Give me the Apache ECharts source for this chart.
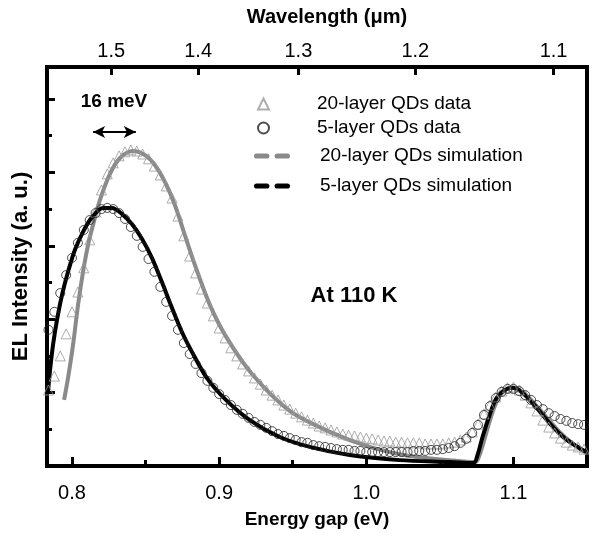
<!DOCTYPE html>
<html><head><meta charset="utf-8">
<script src="https://cdn.jsdelivr.net/npm/echarts@6/dist/echarts.min.js"></script>
<style>html,body{margin:0;padding:0;background:#fff}#c{width:592px;height:533px}</style>
</head><body><div id="c"></div>
<script>
// ---- data ----
const dataEnergy = [0.784,0.788,0.792,0.796,0.800,0.804,0.808,0.812,0.816,0.820,0.824,0.828,0.832,0.836,0.840,0.844,0.848,0.852,0.856,0.860,0.864,0.868,0.872,0.876,0.880,0.884,0.888,0.892,0.896,0.900,0.904,0.908,0.912,0.916,0.920,0.924,0.928,0.932,0.936,0.940,0.944,0.948,0.952,0.956,0.960,0.964,0.968,0.972,0.976,0.980,0.984,0.988,0.992,0.996,1.000,1.004,1.008,1.012,1.016,1.020,1.024,1.028,1.032,1.036,1.040,1.044,1.048,1.052,1.056,1.060,1.064,1.068,1.072,1.076,1.080,1.084,1.088,1.092,1.096,1.100,1.104,1.108,1.112,1.116,1.120,1.124,1.128,1.132,1.136,1.140,1.144,1.148];
const data20Layer = [2.07,2.45,3.00,3.60,4.20,4.74,5.40,6.16,6.92,7.52,
 7.96,8.26,8.45,8.56,8.61,8.58,8.50,8.37,8.17,7.93,
 7.63,7.30,6.81,6.27,5.72,5.26,4.82,4.44,4.09,3.76,
 3.49,3.22,3.00,2.78,2.59,2.40,2.23,2.07,1.93,1.80,
 1.66,1.55,1.44,1.34,1.25,1.17,1.09,1.04,0.98,0.93,
 0.87,0.84,0.82,0.79,0.76,0.74,0.71,0.68,0.68,0.65,
 0.65,0.63,0.63,0.63,0.60,0.60,0.60,0.60,0.63,0.65,
 0.71,0.79,0.93,1.14,1.42,1.66,1.88,2.04,2.13,2.15,
 2.07,1.93,1.72,1.50,1.25,1.06,0.90,0.76,0.65,0.57,
 0.52,0.46];
const data5Layer = [3.71,4.20,4.71,5.20,5.67,6.08,6.43,6.70,6.89,7.00,
 7.03,7.00,6.89,6.73,6.51,6.27,5.97,5.64,5.29,4.88,
 4.47,4.09,3.71,3.35,3.05,2.78,2.53,2.32,2.13,1.96,
 1.80,1.66,1.53,1.42,1.31,1.20,1.12,1.04,0.95,0.87,
 0.82,0.76,0.71,0.65,0.63,0.57,0.54,0.52,0.49,0.46,
 0.44,0.44,0.41,0.41,0.38,0.38,0.38,0.38,0.38,0.38,
 0.38,0.38,0.41,0.41,0.41,0.44,0.44,0.46,0.49,0.54,
 0.63,0.74,0.90,1.12,1.39,1.63,1.85,2.02,2.10,2.10,
 2.04,1.93,1.80,1.66,1.55,1.44,1.36,1.28,1.23,1.17,
 1.14,1.12];
const sim20Energy = [0.7946,0.7973,0.8007,0.8041,0.8075,0.8109,0.8143,0.8190,0.8258,0.8326,0.8414,0.8496,0.8563,0.8631,0.8699,0.8767,0.8835,0.8937,0.9052,0.9229,0.9480,0.9752,1.0023,1.0295,1.0566,1.0743,1.0770,1.0811,1.0858,1.0906,1.0953,1.0994,1.1041,1.1109,1.1211,1.1313,1.1415,1.1496];
const sim20Value = [1.80,2.40,3.30,4.39,5.29,6.02,6.57,7.25,7.96,8.39,8.58,8.47,8.20,7.74,7.11,6.29,5.48,4.39,3.49,2.48,1.50,0.93,0.52,0.27,0.16,0.11,0.30,0.84,1.47,1.91,2.10,2.13,2.07,1.85,1.39,0.93,0.57,0.35];
const sim5Energy = [0.7837,0.7851,0.7871,0.7898,0.7932,0.7973,0.8020,0.8075,0.8136,0.8210,0.8272,0.8339,0.8407,0.8475,0.8543,0.8611,0.8679,0.8747,0.8815,0.8916,0.9039,0.9208,0.9412,0.9616,0.9887,1.0227,1.0566,1.0729,1.0756,1.0790,1.0838,1.0885,1.0940,1.0994,1.1055,1.1143,1.1245,1.1347,1.1449,1.1496];
const sim5Value = [2.02,2.62,3.30,3.98,4.66,5.29,5.89,6.38,6.78,7.03,7.03,6.87,6.59,6.19,5.67,5.01,4.31,3.65,3.11,2.40,1.83,1.25,0.79,0.52,0.30,0.16,0.11,0.08,0.30,0.79,1.39,1.85,2.07,2.13,2.02,1.66,1.17,0.76,0.49,0.38];
const energyMajorTicks = [0.8,0.9,1.0,1.1];
const energyMinorTicks = [0.85,0.95,1.05];
const wavelengthTicks = [1.5,1.4,1.3,1.2,1.1];
const intensityMajorTicks = [2,4,6,8,10];
const intensityMinorTicks = [1,3,5,7,9];
const splitArrowEnergy = [0.8143,0.8434];
const splitArrowLevel = 9.1;

// ---- chart ----
const FONT = '"Liberation Sans", Arial, Helvetica, sans-serif';
const XMIN = 0.783, XMAX = 1.15, YMIN = 0, YMAX = 10.87;
const zip = (a, b) => a.map((v, i) => [v, b[i]]);
const wlPos = wavelengthTicks.map(l => 1.24 / l);
const DASH = 'path://M2,0h10a2,2 0 0 1 0,5h-10a2,2 0 0 1 0,-5z M22,0h10a2,2 0 0 1 0,5h-10a2,2 0 0 1 0,-5z';
const txt = (size, bold) => ({fontSize: size, fontWeight: bold ? 'bold' : 'normal', color: '#000', fontFamily: FONT});
const tickStyle = () => ({color: '#000', width: 3});

const chart = echarts.init(document.getElementById('c'), null, {renderer: 'canvas'});
chart.setOption({
  animation: false,
  backgroundColor: '#fff',
  grid: {left: 47, right: 5, top: 67, bottom: 67, containLabel: false, outerBoundsMode: 'none',
         show: true, borderColor: '#000', borderWidth: 4, backgroundColor: 'transparent'},
  xAxis: [
    {type: 'value', min: XMIN, max: XMAX, position: 'bottom',
     axisLine: {show: false, onZero: false},
     axisTick: {show: true, inside: true, length: 9, lineStyle: tickStyle(), customValues: energyMajorTicks},
     axisLabel: {show: true, customValues: energyMajorTicks, formatter: v => v.toFixed(1), margin: 17, ...txt(20, false)},
     splitLine: {show: false},
     name: 'Energy gap (eV)', nameLocation: 'middle', nameGap: 44, nameTextStyle: txt(19, true)},
    {type: 'value', min: XMIN, max: XMAX, position: 'bottom',
     axisLine: {show: false, onZero: false},
     axisTick: {show: true, inside: true, length: 6, lineStyle: tickStyle(), customValues: energyMinorTicks},
     axisLabel: {show: false}, splitLine: {show: false}},
    {type: 'value', min: XMIN, max: XMAX, position: 'top',
     axisLine: {show: false, onZero: false},
     axisTick: {show: true, inside: true, length: 8, lineStyle: tickStyle(), customValues: wlPos},
     axisLabel: {show: true, customValues: wlPos, formatter: v => (1.24 / v).toFixed(1), margin: 6, ...txt(20, false)},
     splitLine: {show: false},
     name: 'Wavelength (μm)', nameLocation: 'middle', nameGap: 40, nameTextStyle: {...txt(20, true), padding: [0, 0, 0, 20]}}
  ],
  yAxis: [
    {type: 'value', min: YMIN, max: YMAX, position: 'left',
     axisLine: {show: false, onZero: false},
     axisTick: {show: true, inside: true, length: 8, lineStyle: tickStyle(), customValues: intensityMajorTicks},
     axisLabel: {show: false}, splitLine: {show: false},
     name: 'EL Intensity (a. u.)', nameLocation: 'middle', nameGap: 15, nameTextStyle: txt(22, true)},
    {type: 'value', min: YMIN, max: YMAX, position: 'left',
     axisLine: {show: false, onZero: false},
     axisTick: {show: true, inside: true, length: 5, lineStyle: tickStyle(), customValues: intensityMinorTicks},
     axisLabel: {show: false}, splitLine: {show: false}}
  ],
  legend: [
    {selectedMode: false, orient: 'vertical', left: 257, top: 92, padding: 0, itemWidth: 11, itemHeight: 11, itemGap: 0,
     data: [{name: '20-layer QDs data', icon: 'triangle'}, {name: '5-layer QDs data', icon: 'circle'}],
     textStyle: {...txt(19, false), padding: [0, 0, 0, 43], lineHeight: 24}},
    {selectedMode: false, orient: 'vertical', left: 254, top: 144, padding: 0, itemWidth: 36, itemHeight: 6, itemGap: 6,
     data: [{name: '20-layer QDs simulation', icon: DASH}, {name: '5-layer QDs simulation', icon: DASH}],
     textStyle: {...txt(19, false), padding: [0, 0, 0, 25], lineHeight: 24}}
  ],
  graphic: [
    {type: 'text', x: 114, y: 102, style: {text: '16 meV', textAlign: 'center', textVerticalAlign: 'middle', font: 'bold 19px ' + FONT, fill: '#000'}},
    {type: 'text', x: 354, y: 296, style: {text: 'At 110 K', textAlign: 'center', textVerticalAlign: 'middle', font: 'bold 22px ' + FONT, fill: '#000'}}
  ],
  series: [
    {name: '20-layer QDs simulation', type: 'line', xAxisIndex: 0, yAxisIndex: 0, data: zip(sim20Energy, sim20Value),
     smooth: 0.3, showSymbol: false, symbol: 'none', itemStyle: {color: '#8a8a8a'}, lineStyle: {color: '#8a8a8a', width: 4}, z: 2},
    {name: '5-layer QDs simulation', type: 'line', xAxisIndex: 0, yAxisIndex: 0, data: zip(sim5Energy, sim5Value),
     smooth: 0.3, showSymbol: false, symbol: 'none', itemStyle: {color: '#000'}, lineStyle: {color: '#000', width: 4}, z: 3,
     markLine: {silent: true, symbol: ['arrow', 'arrow'], symbolSize: [9, 12], label: {show: false},
       lineStyle: {color: '#000', width: 2, type: 'solid'},
       data: [[{coord: [splitArrowEnergy[0], splitArrowLevel]}, {coord: [splitArrowEnergy[1], splitArrowLevel]}]]}},
    {name: '20-layer QDs data', type: 'scatter', xAxisIndex: 0, yAxisIndex: 0, data: zip(dataEnergy, data20Layer),
     symbol: 'triangle', symbolSize: 10, itemStyle: {color: 'rgba(255,255,255,0)', borderColor: '#999', borderWidth: 1}, z: 4},
    {name: '5-layer QDs data', type: 'scatter', xAxisIndex: 0, yAxisIndex: 0, data: zip(dataEnergy, data5Layer),
     symbol: 'circle', symbolSize: 9, itemStyle: {color: 'rgba(255,255,255,0)', borderColor: '#222', borderWidth: 1}, z: 4}
  ]
});
</script></body></html>
